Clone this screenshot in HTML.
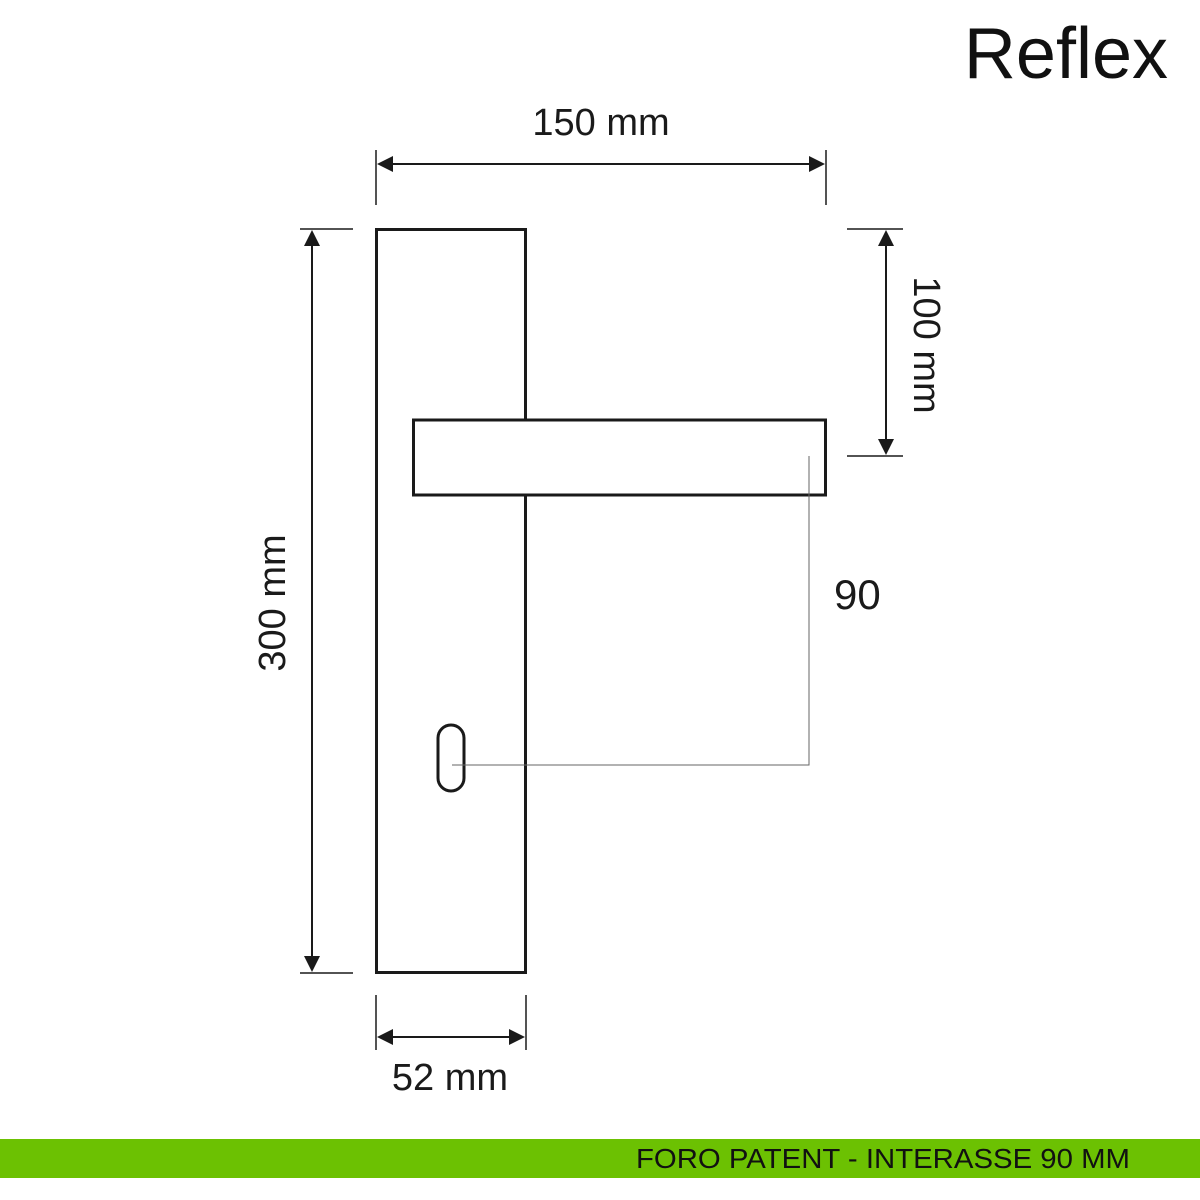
<!DOCTYPE html>
<html><head><style>html,body{margin:0;padding:0;background:#fff}svg{display:block}</style></head>
<body>
<svg width="1200" height="1200" viewBox="0 0 1200 1200" xmlns="http://www.w3.org/2000/svg" font-family="Liberation Sans, sans-serif">
<rect width="1200" height="1200" fill="#fff"/>
<text x="1168" y="78" font-size="72" text-anchor="end" fill="#111">Reflex</text>
<rect x="376.5" y="229.5" width="149" height="743" fill="none" stroke="#1a1a1a" stroke-width="3"/>
<rect x="413.5" y="420" width="412" height="75" fill="#fff" stroke="#1a1a1a" stroke-width="3"/>
<rect x="438" y="725" width="26" height="66" rx="13" fill="none" stroke="#1a1a1a" stroke-width="3"/>
<polyline points="452,765 809,765 809,456" fill="none" stroke="#666" stroke-width="1"/>
<g stroke="#1a1a1a" stroke-width="1.5">
<line x1="376" y1="150" x2="376" y2="205"/><line x1="826" y1="150" x2="826" y2="205"/>
<line x1="300" y1="229" x2="353" y2="229"/><line x1="300" y1="973" x2="353" y2="973"/>
<line x1="847" y1="229" x2="903" y2="229"/><line x1="847" y1="456" x2="903" y2="456"/>
<line x1="376" y1="995" x2="376" y2="1050"/><line x1="526" y1="995" x2="526" y2="1050"/>
</g>
<g stroke="#1a1a1a" stroke-width="2">
<line x1="380" y1="164" x2="822" y2="164"/>
<line x1="312" y1="233" x2="312" y2="969"/>
<line x1="886" y1="233" x2="886" y2="452"/>
<line x1="380" y1="1037" x2="522" y2="1037"/>
</g>
<g fill="#1a1a1a">
<polygon points="377,164 393,156 393,172"/><polygon points="825,164 809,156 809,172"/>
<polygon points="312,230 304,246 320,246"/><polygon points="312,972 304,956 320,956"/>
<polygon points="886,230 878,246 894,246"/><polygon points="886,455 878,439 894,439"/>
<polygon points="377,1037 393,1029 393,1045"/><polygon points="525,1037 509,1029 509,1045"/>
</g>
<g fill="#1a1a1a" font-size="38">
<text x="601" y="135" text-anchor="middle">150 mm</text>
<text transform="translate(285,603) rotate(-90)" text-anchor="middle">300 mm</text>
<text transform="translate(914,345) rotate(90)" text-anchor="middle">100 mm</text>
<text x="450" y="1090" text-anchor="middle">52 mm</text>
<text x="834" y="609" font-size="42">90</text>
</g>
<rect x="0" y="1139" width="1200" height="39" fill="#6cc102"/>
<text x="636" y="1168" font-size="28" fill="#111" textLength="494" lengthAdjust="spacingAndGlyphs">FORO PATENT - INTERASSE 90 MM</text>
</svg>
</body></html>
